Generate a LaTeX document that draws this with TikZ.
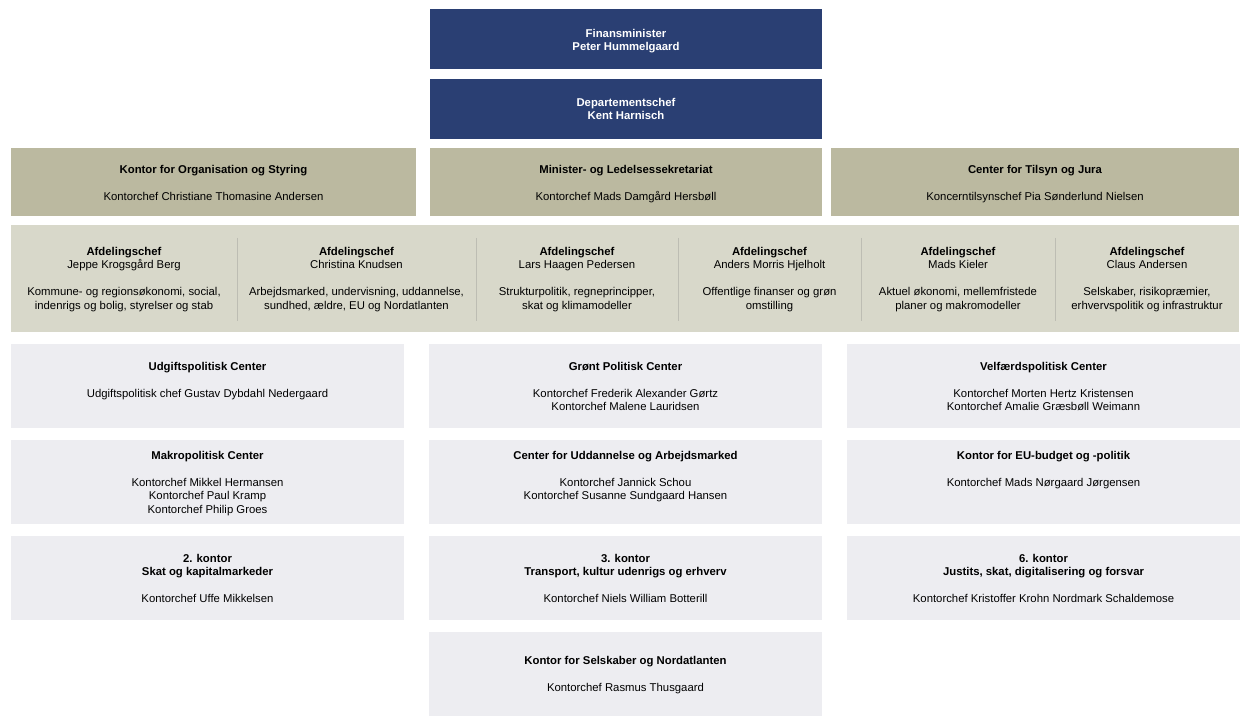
\documentclass[tikz,border=0pt]{standalone}
\usepackage{fontspec}
\setmainfont{Liberation Sans}
\definecolor{navy}{HTML}{2A3F73}
\definecolor{tanbox}{HTML}{BBB9A0}
\definecolor{bandbg}{HTML}{D8D8CA}
\definecolor{lightbox}{HTML}{EDEDF1}
\definecolor{divider}{HTML}{BDBDB3}
\newcommand\orgbox[6]{%
  \pgfmathsetmacro\bw{(#4-#2)*0.75}%
  \pgfmathsetmacro\bh{(#5-#3)*0.75}%
  \node[box,#6,minimum width=\bw pt,minimum height=\bh pt] (#1) at ({(#2+#4)/2},{(#3+#5)/2}) {};}
\begin{document}
\begin{tikzpicture}[x=0.75pt,y=-0.75pt,
  box/.style={draw=none,inner sep=0pt,outer sep=0pt,rectangle},
  txt/.style={anchor=north,inner sep=0pt,align=center,font=\fontsize{8.5pt}{10.1pt}\selectfont},
  wtxt/.style={txt,text=white,font=\fontsize{8.5pt}{10.1pt}\selectfont\bfseries},
  divline/.style={draw=divider,line width=0.75pt}]
\fill[white] (0,0) rectangle (1249,727);
\useasboundingbox (0,0) rectangle (1249,727);

% top blue boxes
\orgbox{fm}{430}{9}{822}{69}{fill=navy}
\orgbox{dc}{430}{79}{822}{139}{fill=navy}
\node[wtxt] (fmt) at (626,29) {Finansminister\\Peter Hummelgaard};
\node[wtxt] (dct) at (626,98) {Departementschef\\Kent Harnisch};

% tan row
\orgbox{kos}{11}{148}{416}{216}{fill=tanbox}
\orgbox{mls}{430}{148}{822}{216}{fill=tanbox}
\orgbox{ctj}{831}{148}{1239}{216}{fill=tanbox}
\node[txt] (kost) at (213.5,165) {\textbf{Kontor for Organisation og Styring}\\[10.1pt]Kontorchef Christiane Thomasine Andersen};
\node[txt] (mlst) at (626,165) {\textbf{Minister- og Ledelsessekretariat}\\[10.1pt]Kontorchef Mads Damgård Hersbøll};
\node[txt] (ctjt) at (1035,165) {\textbf{Center for Tilsyn og Jura}\\[10.1pt]Koncerntilsynschef Pia Sønderlund Nielsen};

% afdelingschef band
\orgbox{band}{11}{225}{1239}{332}{fill=bandbg}
\draw[divline] (237,238) -- (237,321);
\draw[divline] (476,238) -- (476,321);
\draw[divline] (678,238) -- (678,321);
\draw[divline] (861,238) -- (861,321);
\draw[divline] (1055,238) -- (1055,321);
\node[txt] (a1) at (124,247) {\textbf{Afdelingschef}\\Jeppe Krogsgård Berg\\[10.1pt]Kommune- og regionsøkonomi, social,\\indenrigs og bolig, styrelser og stab};
\node[txt] (a2) at (356.5,247) {\textbf{Afdelingschef}\\Christina Knudsen\\[10.1pt]Arbejdsmarked, undervisning, uddannelse,\\sundhed, ældre, EU og Nordatlanten};
\node[txt] (a3) at (577,247) {\textbf{Afdelingschef}\\Lars Haagen Pedersen\\[10.1pt]Strukturpolitik, regneprincipper,\\skat og klimamodeller};
\node[txt] (a4) at (769.5,247) {\textbf{Afdelingschef}\\Anders Morris Hjelholt\\[10.1pt]Offentlige finanser og grøn\\omstilling};
\node[txt] (a5) at (958,247) {\textbf{Afdelingschef}\\Mads Kieler\\[10.1pt]Aktuel økonomi, mellemfristede\\planer og makromodeller};
\node[txt] (a6) at (1147,247) {\textbf{Afdelingschef}\\Claus Andersen\\[10.1pt]Selskaber, risikopræmier,\\erhvervspolitik og infrastruktur};

% bottom grid
\orgbox{udg}{11}{344}{404}{428}{fill=lightbox}
\orgbox{gro}{429}{344}{822}{428}{fill=lightbox}
\orgbox{vel}{847}{344}{1240}{428}{fill=lightbox}
\orgbox{mak}{11}{440}{404}{524}{fill=lightbox}
\orgbox{cua}{429}{440}{822}{524}{fill=lightbox}
\orgbox{eub}{847}{440}{1240}{524}{fill=lightbox}
\orgbox{k2}{11}{536}{404}{620}{fill=lightbox}
\orgbox{k3}{429}{536}{822}{620}{fill=lightbox}
\orgbox{k6}{847}{536}{1240}{620}{fill=lightbox}
\orgbox{ksn}{429}{632}{822}{716}{fill=lightbox}

\node[txt] (udgt) at (207.5,362) {\textbf{Udgiftspolitisk Center}\\[10.1pt]Udgiftspolitisk chef Gustav Dybdahl Nedergaard};
\node[txt] (grot) at (625.5,362) {\textbf{Grønt Politisk Center}\\[10.1pt]Kontorchef Frederik Alexander Gørtz\\Kontorchef Malene Lauridsen};
\node[txt] (velt) at (1043.5,362) {\textbf{Velfærdspolitisk Center}\\[10.1pt]Kontorchef Morten Hertz Kristensen\\Kontorchef Amalie Græsbøll Weimann};

\node[txt] (makt) at (207.5,451) {\textbf{Makropolitisk Center}\\[10.1pt]Kontorchef Mikkel Hermansen\\Kontorchef Paul Kramp\\Kontorchef Philip Groes};
\node[txt] (cuat) at (625.5,451) {\textbf{Center for Uddannelse og Arbejdsmarked}\\[10.1pt]Kontorchef Jannick Schou\\Kontorchef Susanne Sundgaard Hansen};
\node[txt] (eubt) at (1043.5,451) {\textbf{Kontor for EU-budget og -politik}\\[10.1pt]Kontorchef Mads Nørgaard Jørgensen};

\node[txt] (k2t) at (207.5,554) {\textbf{2. kontor}\\\textbf{Skat og kapitalmarkeder}\\[10.1pt]Kontorchef Uffe Mikkelsen};
\node[txt] (k3t) at (625.5,554) {\textbf{3. kontor}\\\textbf{Transport, kultur udenrigs og erhverv}\\[10.1pt]Kontorchef Niels William Botterill};
\node[txt] (k6t) at (1043.5,554) {\textbf{6. kontor}\\\textbf{Justits, skat, digitalisering og forsvar}\\[10.1pt]Kontorchef Kristoffer Krohn Nordmark Schaldemose};

\node[txt] (ksnt) at (625.5,656) {\textbf{Kontor for Selskaber og Nordatlanten}\\[10.1pt]Kontorchef Rasmus Thusgaard};
\end{tikzpicture}
\end{document}
